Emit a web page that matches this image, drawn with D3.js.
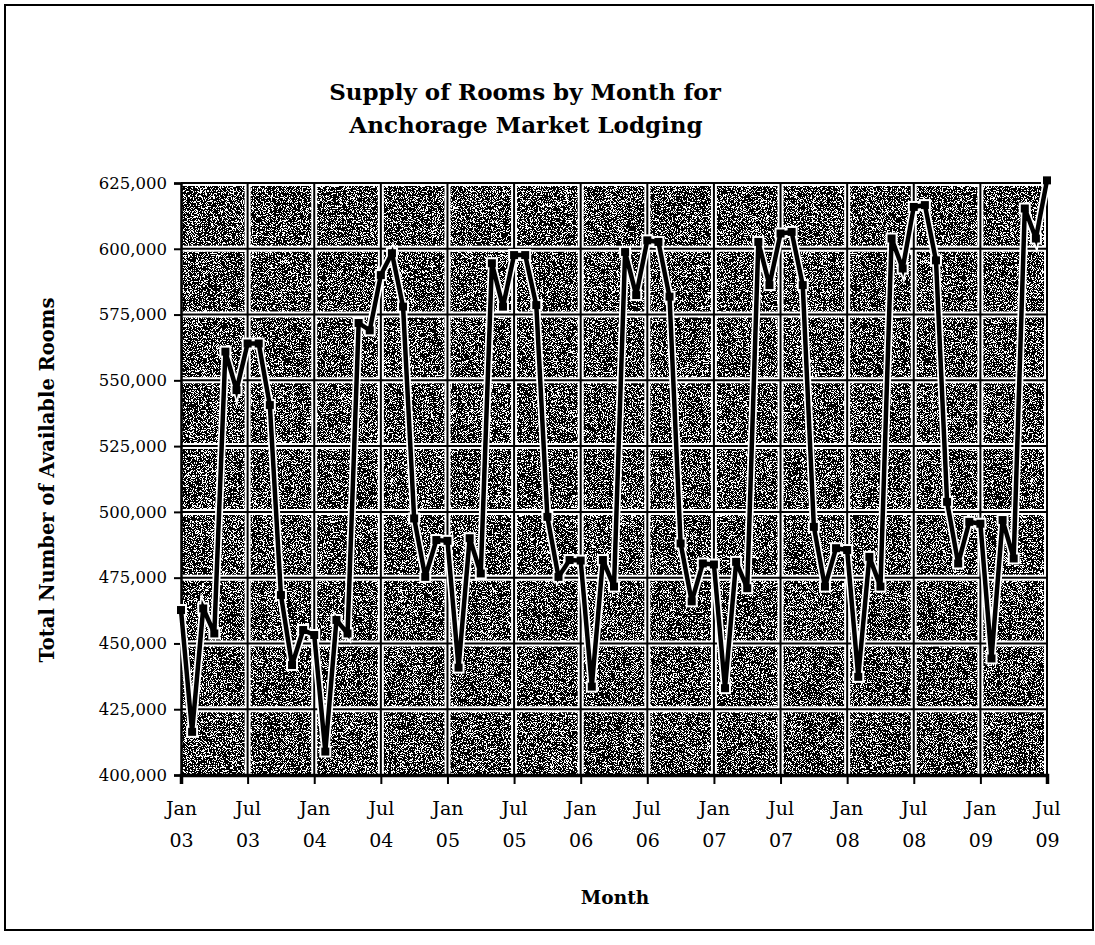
<!DOCTYPE html>
<html>
<head>
<meta charset="utf-8">
<script src="https://cdn.jsdelivr.net/npm/d3@7"></script>
<style>
  html, body { margin: 0; padding: 0; background: #fff; }
  svg { display: block; }
</style>
</head>
<body>
<svg id="chart" width="1095" height="945"></svg>
<script>
// Monthly supply of available rooms, Jan 2003 – Jul 2009
const months = ["Jan","Feb","Mar","Apr","May","Jun","Jul","Aug","Sep","Oct","Nov","Dec"];
const startYear = 2003;

const rooms2003 = [462700, 416400, 463300, 453800, 560900, 546300, 564000, 564000, 540600, 468400, 441800, 455100];
const rooms2004 = [453200, 408900, 458900, 453800, 571800, 569000, 590000, 598300, 578000, 497500, 475300, 489300];
const rooms2005 = [489000, 440800, 490000, 476600, 594500, 578000, 597600, 597600, 578600, 498100, 475300, 481700];
const rooms2006 = [481500, 433600, 481700, 471600, 598800, 582400, 603200, 602600, 581800, 488000, 466000, 480400];
const rooms2007 = [480000, 433000, 481000, 471000, 602600, 586200, 605800, 606400, 586200, 494300, 471600, 486200];
const rooms2008 = [485500, 437300, 482900, 471600, 603900, 592500, 615900, 616600, 595600, 503800, 480400, 496200];
const rooms2009 = [495500, 444300, 496900, 482300, 615300, 603900, 626000];

const yTicks = [400000, 425000, 450000, 475000, 500000, 525000, 550000, 575000, 600000, 625000];

const series = [].concat(rooms2003, rooms2004, rooms2005, rooms2006, rooms2007, rooms2008, rooms2009)
  .map((v, i) => ({ i, month: months[i % 12], year: startYear + Math.floor(i / 12), value: v }));

// every sixth month gets a tick (Jan / Jul)
const xTickIdx = d3.range(0, series.length, 6);

const svg = d3.select("#chart");
const font = "'DejaVu Serif', 'Liberation Serif', serif";

const plot = { left: 181, right: 1047, top: 183, bottom: 775 };

const x = d3.scaleLinear().domain([0, series.length - 1]).range([plot.left, plot.right]);
const y = d3.scaleLinear().domain([400000, 625000]).range([plot.bottom, plot.top]);

// outer frame
svg.append("rect")
  .attr("x", 5).attr("y", 5).attr("width", 1088).attr("height", 925)
  .attr("fill", "none").attr("stroke", "#000").attr("stroke-width", 2);

// grainy dark plot background
const defs = svg.append("defs");
const grain = defs.append("filter").attr("id", "grain")
  .attr("x", 0).attr("y", 0).attr("width", "100%").attr("height", "100%")
  .attr("filterUnits", "objectBoundingBox");
grain.append("feTurbulence")
  .attr("type", "fractalNoise").attr("baseFrequency", 1.2)
  .attr("numOctaves", 2).attr("seed", 7).attr("result", "noise");
grain.append("feColorMatrix").attr("type", "matrix")
  .attr("values", "1 0 0 0 0  1 0 0 0 0  1 0 0 0 0  0 0 0 0 1");
const ct = grain.append("feComponentTransfer");
const table = "0 0 0 0 0 0 0 0 0 0 0 1 1 1 1 1 1 1 1 1";
ct.append("feFuncR").attr("type", "discrete").attr("tableValues", table);
ct.append("feFuncG").attr("type", "discrete").attr("tableValues", table);
ct.append("feFuncB").attr("type", "discrete").attr("tableValues", table);

svg.append("rect")
  .attr("x", plot.left).attr("y", plot.top)
  .attr("width", plot.right - plot.left).attr("height", plot.bottom - plot.top)
  .attr("fill", "#000");
svg.append("rect")
  .attr("x", plot.left).attr("y", plot.top)
  .attr("width", plot.right - plot.left).attr("height", plot.bottom - plot.top)
  .attr("filter", "url(#grain)");

// gridlines: a light halo with a dark core
const grid = svg.append("g");
function gridLines(cls, stroke, width) {
  grid.selectAll("line.h" + cls).data(yTicks.filter(t => t > 400000)).join("line")
    .attr("class", "h" + cls)
    .attr("x1", plot.left).attr("x2", plot.right)
    .attr("y1", d => y(d)).attr("y2", d => y(d))
    .attr("stroke", stroke).attr("stroke-width", width);
  grid.selectAll("line.v" + cls).data(xTickIdx.filter(i => i > 0)).join("line")
    .attr("class", "v" + cls)
    .attr("y1", plot.top).attr("y2", plot.bottom)
    .attr("x1", d => x(d)).attr("x2", d => x(d))
    .attr("stroke", stroke).attr("stroke-width", width);
}
gridLines("w", "#fff", 6);
gridLines("k", "#000", 2);

// y axis
const yAxis = d3.axisLeft(y).tickValues(yTicks).tickFormat(d3.format(",")).tickSize(7).tickPadding(7);
const gy = svg.append("g").attr("transform", `translate(${plot.left},0)`).call(yAxis);
gy.select(".domain").attr("stroke", "#000").attr("stroke-width", 2.5);
gy.selectAll(".tick line").attr("stroke", "#000").attr("stroke-width", 2);
gy.selectAll(".tick text")
  .attr("font-family", font).attr("font-size", 16.5).attr("fill", "#000");

// x axis with two-line month / year labels
const xAxis = d3.axisBottom(x).tickValues(xTickIdx).tickSize(9).tickFormat("");
const gx = svg.append("g").attr("transform", `translate(0,${plot.bottom})`).call(xAxis);
gx.select(".domain").attr("stroke", "#000").attr("stroke-width", 3.5);
gx.selectAll(".tick line").attr("stroke", "#000").attr("stroke-width", 2);
const xl = gx.selectAll(".tick").append("text")
  .attr("font-family", font).attr("font-size", 19).attr("fill", "#000")
  .attr("text-anchor", "middle");
xl.append("tspan").attr("x", 0).attr("y", 40).text(d => series[d].month);
xl.append("tspan").attr("x", 0).attr("y", 72)
  .text(d => String(series[d].year % 100).padStart(2, "0"));

// data line: white halo layer first, then the black line and square markers
const line = d3.line().x(d => x(d.i)).y(d => y(d.value)).curve(d3.curveLinear);
const halo = svg.append("g");
halo.append("path").datum(series)
  .attr("d", line).attr("fill", "none")
  .attr("stroke", "#fff").attr("stroke-width", 8).attr("stroke-linejoin", "miter");
halo.selectAll("rect").data(series).join("rect")
  .attr("x", d => x(d.i) - 6).attr("y", d => y(d.value) - 6)
  .attr("width", 12).attr("height", 12).attr("fill", "#fff");

const ink = svg.append("g");
ink.append("path").datum(series)
  .attr("d", line).attr("fill", "none")
  .attr("stroke", "#000").attr("stroke-width", 4.5).attr("stroke-linejoin", "miter");
ink.selectAll("rect").data(series).join("rect")
  .attr("x", d => x(d.i) - 4).attr("y", d => y(d.value) - 4)
  .attr("width", 8).attr("height", 8).attr("fill", "#000");

// titles
svg.append("text")
  .attr("x", 525).attr("y", 100).attr("text-anchor", "middle")
  .attr("font-family", font).attr("font-weight", "bold").attr("font-size", 23)
  .text("Supply of Rooms by Month for");
svg.append("text")
  .attr("x", 526).attr("y", 133).attr("text-anchor", "middle")
  .attr("font-family", font).attr("font-weight", "bold").attr("font-size", 23)
  .text("Anchorage Market Lodging");

svg.append("text")
  .attr("x", 615).attr("y", 904).attr("text-anchor", "middle")
  .attr("font-family", font).attr("font-weight", "bold").attr("font-size", 18.5)
  .text("Month");

svg.append("text")
  .attr("transform", "translate(54,480) rotate(-90)")
  .attr("text-anchor", "middle")
  .attr("font-family", font).attr("font-weight", "bold").attr("font-size", 19.5)
  .text("Total Number of Available Rooms");
</script>
</body>
</html>
